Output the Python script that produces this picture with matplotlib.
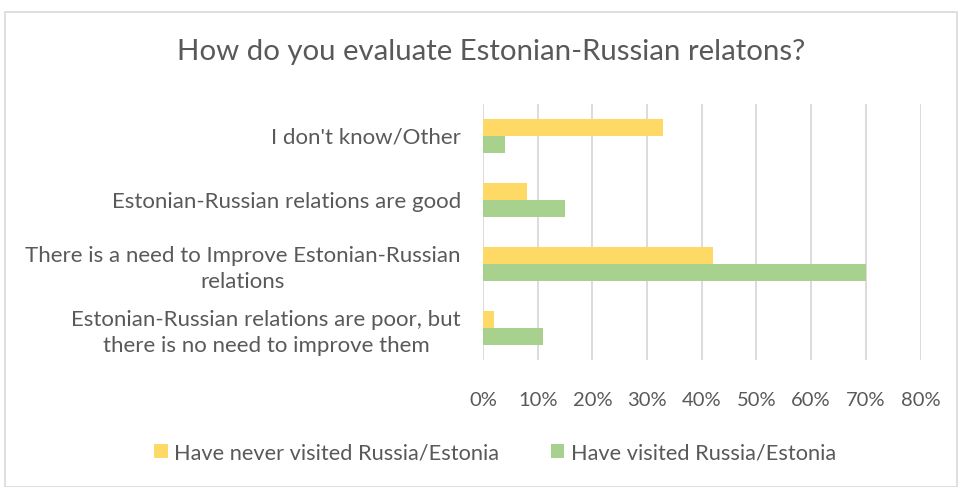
import matplotlib
matplotlib.use("Agg")
import matplotlib.pyplot as plt
from matplotlib.patches import Rectangle
import numpy as np

plt.rcParams["font.family"] = ["Lato", "DejaVu Sans"]

categories = [
    "Estonian-Russian relations are poor, but\nthere is no need to improve them",
    "There is a need to Improve Estonian-Russian\nrelations",
    "Estonian-Russian relations are good",
    "I don't know/Other",
]
never_visited = [2, 42, 8, 33]
visited = [11, 70, 15, 4]
series_names = ["Have never visited Russia/Estonia", "Have visited Russia/Estonia"]
x_ticks = [0, 10, 20, 30, 40, 50, 60, 70, 80]

YELLOW = "#FFD966"
GREEN = "#A9D18E"
TEXT = "#595959"
GRID = "#D9D9D9"

fig = plt.figure(figsize=(9.58, 4.87), dpi=100)
fig.patch.set_facecolor("white")
# thin frame round the chart area
fig.add_artist(Rectangle((5 / 958, 0), 952 / 958, 475 / 487, transform=fig.transFigure,
                         fill=False, edgecolor=GRID, linewidth=1.2))

ax = fig.add_axes([483 / 958, 127 / 487, 437.5 / 958, 256 / 487])
y = np.arange(len(categories))
h = 0.265
ax.barh(y + h / 2, never_visited, height=h, color=YELLOW, label=series_names[0], zorder=3)
ax.barh(y - h / 2, visited, height=h, color=GREEN, label=series_names[1], zorder=3)

ax.set_xlim(0, 80)
ax.set_ylim(-0.5, len(categories) - 0.5)
ax.set_xticks(x_ticks)
ax.set_xticklabels([f"{v}%" for v in x_ticks], fontsize=14.5, color=TEXT)
ax.set_yticks(y)
ax.set_yticklabels(categories, fontsize=16, color=TEXT, multialignment="center",
                   linespacing=1.35)
ax.tick_params(length=0)
ax.tick_params(axis="y", pad=16)
ax.tick_params(axis="x", pad=23)
ax.grid(axis="x", color=GRID, linewidth=1.3, zorder=0)
for s in ax.spines.values():
    s.set_visible(False)

fig.text(0.513, 1 - 52 / 487, "How do you evaluate Estonian-Russian relatons?",
         ha="center", va="center", fontsize=21.2, color=TEXT)

fig.legend(loc="center", bbox_to_anchor=(0.517, 1 - 453 / 487), ncol=2, frameon=False,
           fontsize=15.7, labelcolor=TEXT, handlelength=0.6, handleheight=0.6,
           handletextpad=0.3, columnspacing=2.4)

fig.savefig("out.png", dpi=100, facecolor="white")
